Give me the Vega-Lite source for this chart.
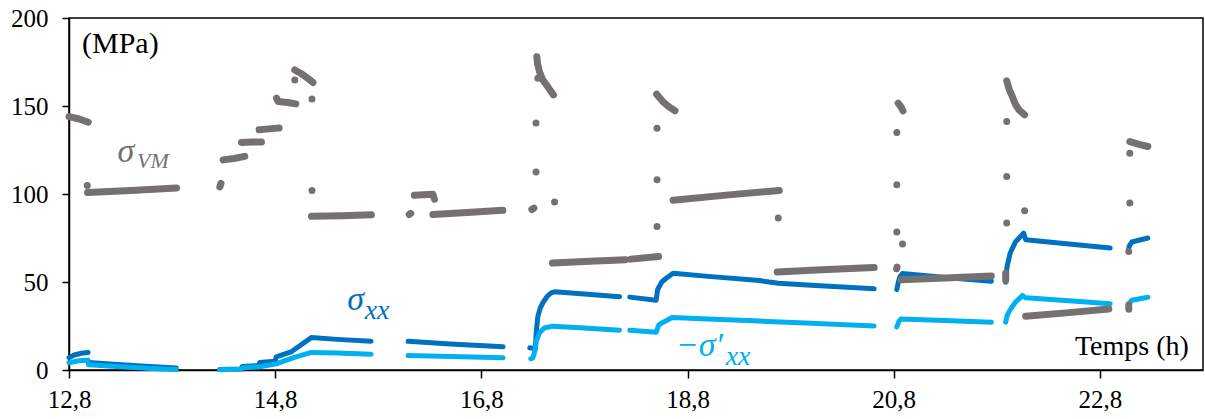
{
  "$schema": "https://vega.github.io/schema/vega-lite/v6.json",
  "width": 1134,
  "height": 352,
  "autosize": {"type": "none"},
  "padding": {"left": 69, "top": 18, "right": 2, "bottom": 49},
  "background": "white",
  "config": {
    "view": {"stroke": "#000", "strokeWidth": 1.5},
    "axis": {"grid": false, "title": null, "domainColor": "#000", "domainWidth": 1.5, "tickColor": "#000", "tickWidth": 1.5, "labelColor": "#000", "labelFont": "Liberation Serif, DejaVu Serif, serif", "labelFontSize": 25, "labelFlush": false, "labelOverlap": false}
  },
  "datasets": {
    "pts": [
      {"s":"xx","g":"xx1","t":12.80,"v":7.0},{"s":"xx","g":"xx1","t":12.85,"v":8.5},{"s":"xx","g":"xx1","t":12.92,"v":9.5},{"s":"xx","g":"xx1","t":12.985,"v":10.0},
      {"s":"xx","g":"xx2","t":12.99,"v":4.2},{"s":"xx","g":"xx2","t":13.2,"v":3.4},{"s":"xx","g":"xx2","t":13.5,"v":2.3},{"s":"xx","g":"xx2","t":13.84,"v":1.2},
      {"s":"xx","g":"xx3","t":14.26,"v":0.3},{"s":"xx","g":"xx3","t":14.47,"v":0.6},{"s":"xx","g":"xx3","t":14.48,"v":2.0},{"s":"xx","g":"xx3","t":14.64,"v":2.5},{"s":"xx","g":"xx3","t":14.65,"v":4.2},{"s":"xx","g":"xx3","t":14.80,"v":5.0},{"s":"xx","g":"xx3","t":14.81,"v":7.5},{"s":"xx","g":"xx3","t":14.96,"v":10.5},{"s":"xx","g":"xx3","t":15.15,"v":18.4},{"s":"xx","g":"xx3","t":15.4,"v":17.4},{"s":"xx","g":"xx3","t":15.73,"v":16.4},
      {"s":"xx","g":"xx4","t":16.09,"v":16.3},{"s":"xx","g":"xx4","t":16.5,"v":14.8},{"s":"xx","g":"xx4","t":17.01,"v":13.2},
      {"s":"xx","g":"xx5","t":17.27,"v":12.6},{"s":"xx","g":"xx5","t":17.30,"v":12.4},
      {"s":"xx","g":"xx6","t":17.325,"v":14.0},{"s":"xx","g":"xx6","t":17.332,"v":21.0},{"s":"xx","g":"xx6","t":17.348,"v":30.5},{"s":"xx","g":"xx6","t":17.37,"v":35.0},{"s":"xx","g":"xx6","t":17.396,"v":38.1},{"s":"xx","g":"xx6","t":17.44,"v":42.0},{"s":"xx","g":"xx6","t":17.477,"v":43.8},{"s":"xx","g":"xx6","t":17.51,"v":44.4},{"s":"xx","g":"xx6","t":17.8,"v":43.2},{"s":"xx","g":"xx6","t":18.14,"v":41.6},
      {"s":"xx","g":"xx7","t":18.24,"v":41.4},{"s":"xx","g":"xx7","t":18.495,"v":39.6},{"s":"xx","g":"xx7","t":18.51,"v":45.7},{"s":"xx","g":"xx7","t":18.55,"v":50.0},{"s":"xx","g":"xx7","t":18.59,"v":52.0},{"s":"xx","g":"xx7","t":18.66,"v":55.0},{"s":"xx","g":"xx7","t":19.0,"v":53.2},{"s":"xx","g":"xx7","t":19.5,"v":50.8},{"s":"xx","g":"xx7","t":19.68,"v":49.3},{"s":"xx","g":"xx7","t":20.0,"v":48.2},{"s":"xx","g":"xx7","t":20.61,"v":46.1},
      {"s":"xx","g":"xx8","t":20.83,"v":45.7},{"s":"xx","g":"xx8","t":20.845,"v":50.0},{"s":"xx","g":"xx8","t":20.86,"v":53.0},{"s":"xx","g":"xx8","t":20.885,"v":54.8},{"s":"xx","g":"xx8","t":21.3,"v":52.6},{"s":"xx","g":"xx8","t":21.747,"v":50.4},
      {"s":"xx","g":"xx9","t":21.886,"v":49.8},{"s":"xx","g":"xx9","t":21.89,"v":54.0},{"s":"xx","g":"xx9","t":21.90,"v":58.9},{"s":"xx","g":"xx9","t":21.93,"v":66.5},{"s":"xx","g":"xx9","t":21.98,"v":72.7},{"s":"xx","g":"xx9","t":22.06,"v":77.8},{"s":"xx","g":"xx9","t":22.08,"v":74.0},{"s":"xx","g":"xx9","t":22.5,"v":71.6},{"s":"xx","g":"xx9","t":22.90,"v":69.3},
      {"s":"xx","g":"xx10","t":23.08,"v":69.3},{"s":"xx","g":"xx10","t":23.09,"v":71.0},{"s":"xx","g":"xx10","t":23.11,"v":72.7},{"s":"xx","g":"xx10","t":23.265,"v":75.0},

      {"s":"xxp","g":"p1","t":12.80,"v":4.1},{"s":"xxp","g":"p1","t":12.90,"v":5.3},{"s":"xxp","g":"p1","t":12.985,"v":5.6},
      {"s":"xxp","g":"p2","t":12.99,"v":3.0},{"s":"xxp","g":"p2","t":13.3,"v":1.8},{"s":"xxp","g":"p2","t":13.6,"v":0.9},{"s":"xxp","g":"p2","t":13.84,"v":0.3},
      {"s":"xxp","g":"p3","t":14.26,"v":0.2},{"s":"xxp","g":"p3","t":14.47,"v":0.4},{"s":"xxp","g":"p3","t":14.48,"v":1.2},{"s":"xxp","g":"p3","t":14.65,"v":1.8},{"s":"xxp","g":"p3","t":14.81,"v":3.5},{"s":"xxp","g":"p3","t":14.97,"v":6.9},{"s":"xxp","g":"p3","t":15.15,"v":10.0},{"s":"xxp","g":"p3","t":15.4,"v":9.6},{"s":"xxp","g":"p3","t":15.73,"v":9.0},
      {"s":"xxp","g":"p4","t":16.09,"v":8.2},{"s":"xxp","g":"p4","t":16.5,"v":7.6},{"s":"xxp","g":"p4","t":17.01,"v":6.9},
      {"s":"xxp","g":"p5","t":17.28,"v":6.4},{"s":"xxp","g":"p5","t":17.30,"v":6.9},{"s":"xxp","g":"p5","t":17.325,"v":12.0},{"s":"xxp","g":"p5","t":17.332,"v":16.3},{"s":"xxp","g":"p5","t":17.364,"v":21.1},{"s":"xxp","g":"p5","t":17.41,"v":23.9},{"s":"xxp","g":"p5","t":17.49,"v":24.9},{"s":"xxp","g":"p5","t":17.8,"v":23.8},{"s":"xxp","g":"p5","t":18.14,"v":22.6},
      {"s":"xxp","g":"p6","t":18.24,"v":22.6},{"s":"xxp","g":"p6","t":18.495,"v":21.4},{"s":"xxp","g":"p6","t":18.52,"v":25.5},{"s":"xxp","g":"p6","t":18.56,"v":27.0},{"s":"xxp","g":"p6","t":18.65,"v":29.8},{"s":"xxp","g":"p6","t":19.0,"v":29.0},{"s":"xxp","g":"p6","t":19.5,"v":27.8},{"s":"xxp","g":"p6","t":20.0,"v":26.6},{"s":"xxp","g":"p6","t":20.61,"v":25.0},
      {"s":"xxp","g":"p7","t":20.83,"v":24.5},{"s":"xxp","g":"p7","t":20.85,"v":27.5},{"s":"xxp","g":"p7","t":20.87,"v":29.0},{"s":"xxp","g":"p7","t":21.3,"v":28.1},{"s":"xxp","g":"p7","t":21.747,"v":27.1},
      {"s":"xxp","g":"p8","t":21.886,"v":27.1},{"s":"xxp","g":"p8","t":21.90,"v":31.0},{"s":"xxp","g":"p8","t":21.93,"v":34.3},{"s":"xxp","g":"p8","t":21.98,"v":38.5},{"s":"xxp","g":"p8","t":22.05,"v":42.4},{"s":"xxp","g":"p8","t":22.08,"v":41.0},{"s":"xxp","g":"p8","t":22.5,"v":39.3},{"s":"xxp","g":"p8","t":22.90,"v":37.7},
      {"s":"xxp","g":"p9","t":23.08,"v":37.7},{"s":"xxp","g":"p9","t":23.11,"v":39.6},{"s":"xxp","g":"p9","t":23.265,"v":41.3},

      {"s":"vm","g":"v1","t":12.80,"v":144.0},{"s":"vm","g":"v1","t":12.9,"v":142.6},{"s":"vm","g":"v1","t":12.987,"v":140.8},
      {"s":"vm","g":"d1","t":12.977,"v":104.9},
      {"s":"vm","g":"v2","t":12.98,"v":100.8},{"s":"vm","g":"v2","t":13.4,"v":102.0},{"s":"vm","g":"v2","t":13.843,"v":103.4},
      {"s":"vm","g":"v3","t":14.263,"v":104.0},{"s":"vm","g":"v3","t":14.275,"v":106.0},
      {"s":"vm","g":"v4","t":14.295,"v":119.4},{"s":"vm","g":"v4","t":14.4,"v":120.2},{"s":"vm","g":"v4","t":14.505,"v":121.4},
      {"s":"vm","g":"v5","t":14.473,"v":129.3},{"s":"vm","g":"v5","t":14.57,"v":129.6},{"s":"vm","g":"v5","t":14.667,"v":129.6},
      {"s":"vm","g":"v6","t":14.644,"v":136.5},{"s":"vm","g":"v6","t":14.74,"v":137.0},{"s":"vm","g":"v6","t":14.838,"v":137.5},
      {"s":"vm","g":"v7","t":14.813,"v":154.5},{"s":"vm","g":"v7","t":14.83,"v":152.5},{"s":"vm","g":"v7","t":14.92,"v":152.0},{"s":"vm","g":"v7","t":15.0,"v":151.2},
      {"s":"vm","g":"d2","t":14.99,"v":164.8},
      {"s":"vm","g":"v8","t":14.99,"v":170.5},{"s":"vm","g":"v8","t":15.05,"v":168.5},{"s":"vm","g":"v8","t":15.11,"v":166.0},{"s":"vm","g":"v8","t":15.167,"v":163.3},
      {"s":"vm","g":"d3","t":15.157,"v":154.0},
      {"s":"vm","g":"d4","t":15.157,"v":102.0},
      {"s":"vm","g":"v9","t":15.152,"v":87.3},{"s":"vm","g":"v9","t":15.45,"v":87.6},{"s":"vm","g":"v9","t":15.733,"v":88.2},
      {"s":"vm","g":"v10","t":16.10,"v":88.3},{"s":"vm","g":"v10","t":16.115,"v":89.0},
      {"s":"vm","g":"v11","t":16.15,"v":99.3},{"s":"vm","g":"v11","t":16.33,"v":99.8},{"s":"vm","g":"v11","t":16.345,"v":97.0},
      {"s":"vm","g":"v12","t":16.33,"v":88.3},{"s":"vm","g":"v12","t":16.7,"v":89.6},{"s":"vm","g":"v12","t":17.008,"v":90.7},
      {"s":"vm","g":"v13","t":17.29,"v":91.2},{"s":"vm","g":"v13","t":17.31,"v":92.0},
      {"s":"vm","g":"d5","t":17.33,"v":112.5},
      {"s":"vm","g":"d6","t":17.33,"v":140.3},
      {"s":"vm","g":"v14","t":17.338,"v":178.0},{"s":"vm","g":"v14","t":17.345,"v":174.0},{"s":"vm","g":"v14","t":17.364,"v":169.5},{"s":"vm","g":"v14","t":17.396,"v":164.8},{"s":"vm","g":"v14","t":17.444,"v":161.0},{"s":"vm","g":"v14","t":17.50,"v":156.3},
      {"s":"vm","g":"d7","t":17.348,"v":165.8},
      {"s":"vm","g":"d8","t":17.51,"v":95.4},
      {"s":"vm","g":"v15","t":17.49,"v":60.8},{"s":"vm","g":"v15","t":17.85,"v":61.8},{"s":"vm","g":"v15","t":18.2,"v":62.7},
      {"s":"vm","g":"v16","t":18.25,"v":63.0},{"s":"vm","g":"v16","t":18.52,"v":64.5},
      {"s":"vm","g":"d9","t":18.504,"v":137.4},
      {"s":"vm","g":"d10","t":18.504,"v":108.1},
      {"s":"vm","g":"d11","t":18.504,"v":81.6},
      {"s":"vm","g":"v17","t":18.50,"v":156.7},{"s":"vm","g":"v17","t":18.56,"v":152.5},{"s":"vm","g":"v17","t":18.62,"v":149.5},{"s":"vm","g":"v17","t":18.678,"v":147.3},
      {"s":"vm","g":"v18","t":18.66,"v":96.5},{"s":"vm","g":"v18","t":19.2,"v":99.5},{"s":"vm","g":"v18","t":19.69,"v":102.0},
      {"s":"vm","g":"d12","t":19.68,"v":86.3},
      {"s":"vm","g":"v19","t":19.67,"v":55.7},{"s":"vm","g":"v19","t":20.1,"v":57.0},{"s":"vm","g":"v19","t":20.61,"v":58.2},
      {"s":"vm","g":"v20","t":20.828,"v":57.5},{"s":"vm","g":"v20","t":20.832,"v":58.5},
      {"s":"vm","g":"d13","t":20.83,"v":78.4},
      {"s":"vm","g":"d14","t":20.83,"v":105.2},
      {"s":"vm","g":"d15","t":20.83,"v":134.9},
      {"s":"vm","g":"d16","t":20.885,"v":71.6},
      {"s":"vm","g":"v21","t":20.843,"v":151.6},{"s":"vm","g":"v21","t":20.87,"v":149.5},{"s":"vm","g":"v21","t":20.89,"v":147.2},
      {"s":"vm","g":"v22","t":20.87,"v":51.3},{"s":"vm","g":"v22","t":21.3,"v":52.3},{"s":"vm","g":"v22","t":21.747,"v":53.4},
      {"s":"vm","g":"v23","t":21.886,"v":51.0},{"s":"vm","g":"v23","t":21.886,"v":55.0},
      {"s":"vm","g":"d17","t":21.896,"v":83.5},
      {"s":"vm","g":"d18","t":21.896,"v":110.0},
      {"s":"vm","g":"d19","t":21.896,"v":141.2},
      {"s":"vm","g":"d20","t":22.07,"v":90.5},
      {"s":"vm","g":"v24","t":21.896,"v":164.3},{"s":"vm","g":"v24","t":21.92,"v":159.5},{"s":"vm","g":"v24","t":21.95,"v":155.4},{"s":"vm","g":"v24","t":21.98,"v":151.0},{"s":"vm","g":"v24","t":22.015,"v":147.8},{"s":"vm","g":"v24","t":22.07,"v":145.0},
      {"s":"vm","g":"v25","t":22.08,"v":30.5},{"s":"vm","g":"v25","t":22.5,"v":32.6},{"s":"vm","g":"v25","t":22.887,"v":34.7},
      {"s":"vm","g":"v26","t":23.08,"v":34.5},{"s":"vm","g":"v26","t":23.08,"v":37.0},
      {"s":"vm","g":"d21","t":23.08,"v":67.4},
      {"s":"vm","g":"d22","t":23.09,"v":94.9},
      {"s":"vm","g":"d23","t":23.09,"v":123.2},
      {"s":"vm","g":"v27","t":23.09,"v":129.8},{"s":"vm","g":"v27","t":23.18,"v":128.2},{"s":"vm","g":"v27","t":23.265,"v":127.0}
    ]
  },
  "encoding": {
    "x": {"field": "t", "type": "quantitative", "scale": {"domain": [12.8, 23.8], "nice": false, "zero": false},
      "axis": {"values": [12.8, 14.8, 16.8, 18.8, 20.8, 22.8], "labelExpr": "replace(format(datum.value, '.1f'), '.', ',')", "tickSize": 8, "labelPadding": 9}},
    "y": {"field": "v", "type": "quantitative", "scale": {"domain": [0, 200], "nice": false},
      "axis": {"values": [0, 50, 100, 150, 200], "tickSize": 7, "labelPadding": 14}},
    "color": {"field": "s", "type": "nominal", "legend": null, "scale": {"domain": ["vm", "xx", "xxp"], "range": ["#767171", "#0070C0", "#00B0F0"]}}
  },
  "layer": [
    {"data": {"name": "pts"}, "transform": [{"filter": "datum.s == 'xx'"}],
     "mark": {"type": "line", "strokeWidth": 5, "strokeCap": "round", "strokeJoin": "round"},
     "encoding": {"detail": {"field": "g"}, "order": {"field": "t", "type": "quantitative"}}},
    {"data": {"name": "pts"}, "transform": [{"filter": "datum.s == 'xxp'"}],
     "mark": {"type": "line", "strokeWidth": 5, "strokeCap": "round", "strokeJoin": "round"},
     "encoding": {"detail": {"field": "g"}, "order": {"field": "t", "type": "quantitative"}}},
    {"data": {"name": "pts"}, "transform": [{"filter": "datum.s == 'vm'"}],
     "mark": {"type": "line", "strokeWidth": 7, "strokeCap": "round", "strokeJoin": "round"},
     "encoding": {"detail": {"field": "g"}}},
    {"data": {"name": "pts"}, "transform": [{"filter": "datum.s == 'vm'"}],
     "mark": {"type": "circle", "size": 28, "opacity": 1}},
    {"data": {"values": [{"t": 12.926, "v": 180, "label": "(MPa)"}]},
     "mark": {"type": "text", "font": "Liberation Serif, DejaVu Serif, serif", "fontSize": 30, "align": "left", "baseline": "alphabetic"},
     "encoding": {"text": {"field": "label"}, "color": {"value": "#000"}}},
    {"data": {"values": [{"t": 23.663, "v": 8.8, "label": "Temps (h)"}]},
     "mark": {"type": "text", "font": "Liberation Serif, DejaVu Serif, serif", "fontSize": 28, "align": "right", "baseline": "alphabetic"},
     "encoding": {"text": {"field": "label"}, "color": {"value": "#000"}}},
    {"data": {"values": [
        {"t": 13.27, "v": 118.3, "label": "σ", "s": "vm"},
        {"t": 15.50, "v": 34.3, "label": "σ", "s": "xx"},
        {"t": 18.685, "v": 7.8, "label": "−σ′", "s": "xxp"}]},
     "mark": {"type": "text", "font": "Liberation Serif, DejaVu Serif, serif", "fontSize": 34, "fontStyle": "italic", "align": "left", "baseline": "alphabetic"},
     "encoding": {"text": {"field": "label"}}},
    {"data": {"values": [{"t": 13.46, "v": 114.8, "label": "VM", "s": "vm"}]},
     "mark": {"type": "text", "font": "Liberation Serif, DejaVu Serif, serif", "fontSize": 22, "fontStyle": "italic", "align": "left", "baseline": "alphabetic"},
     "encoding": {"text": {"field": "label"}}},
    {"data": {"values": [
        {"t": 15.668, "v": 28.7, "label": "xx", "s": "xx"},
        {"t": 19.17, "v": 3.1, "label": "xx", "s": "xxp"}]},
     "mark": {"type": "text", "font": "Liberation Serif, DejaVu Serif, serif", "fontSize": 28, "fontStyle": "italic", "align": "left", "baseline": "alphabetic"},
     "encoding": {"text": {"field": "label"}}}
  ]
}
